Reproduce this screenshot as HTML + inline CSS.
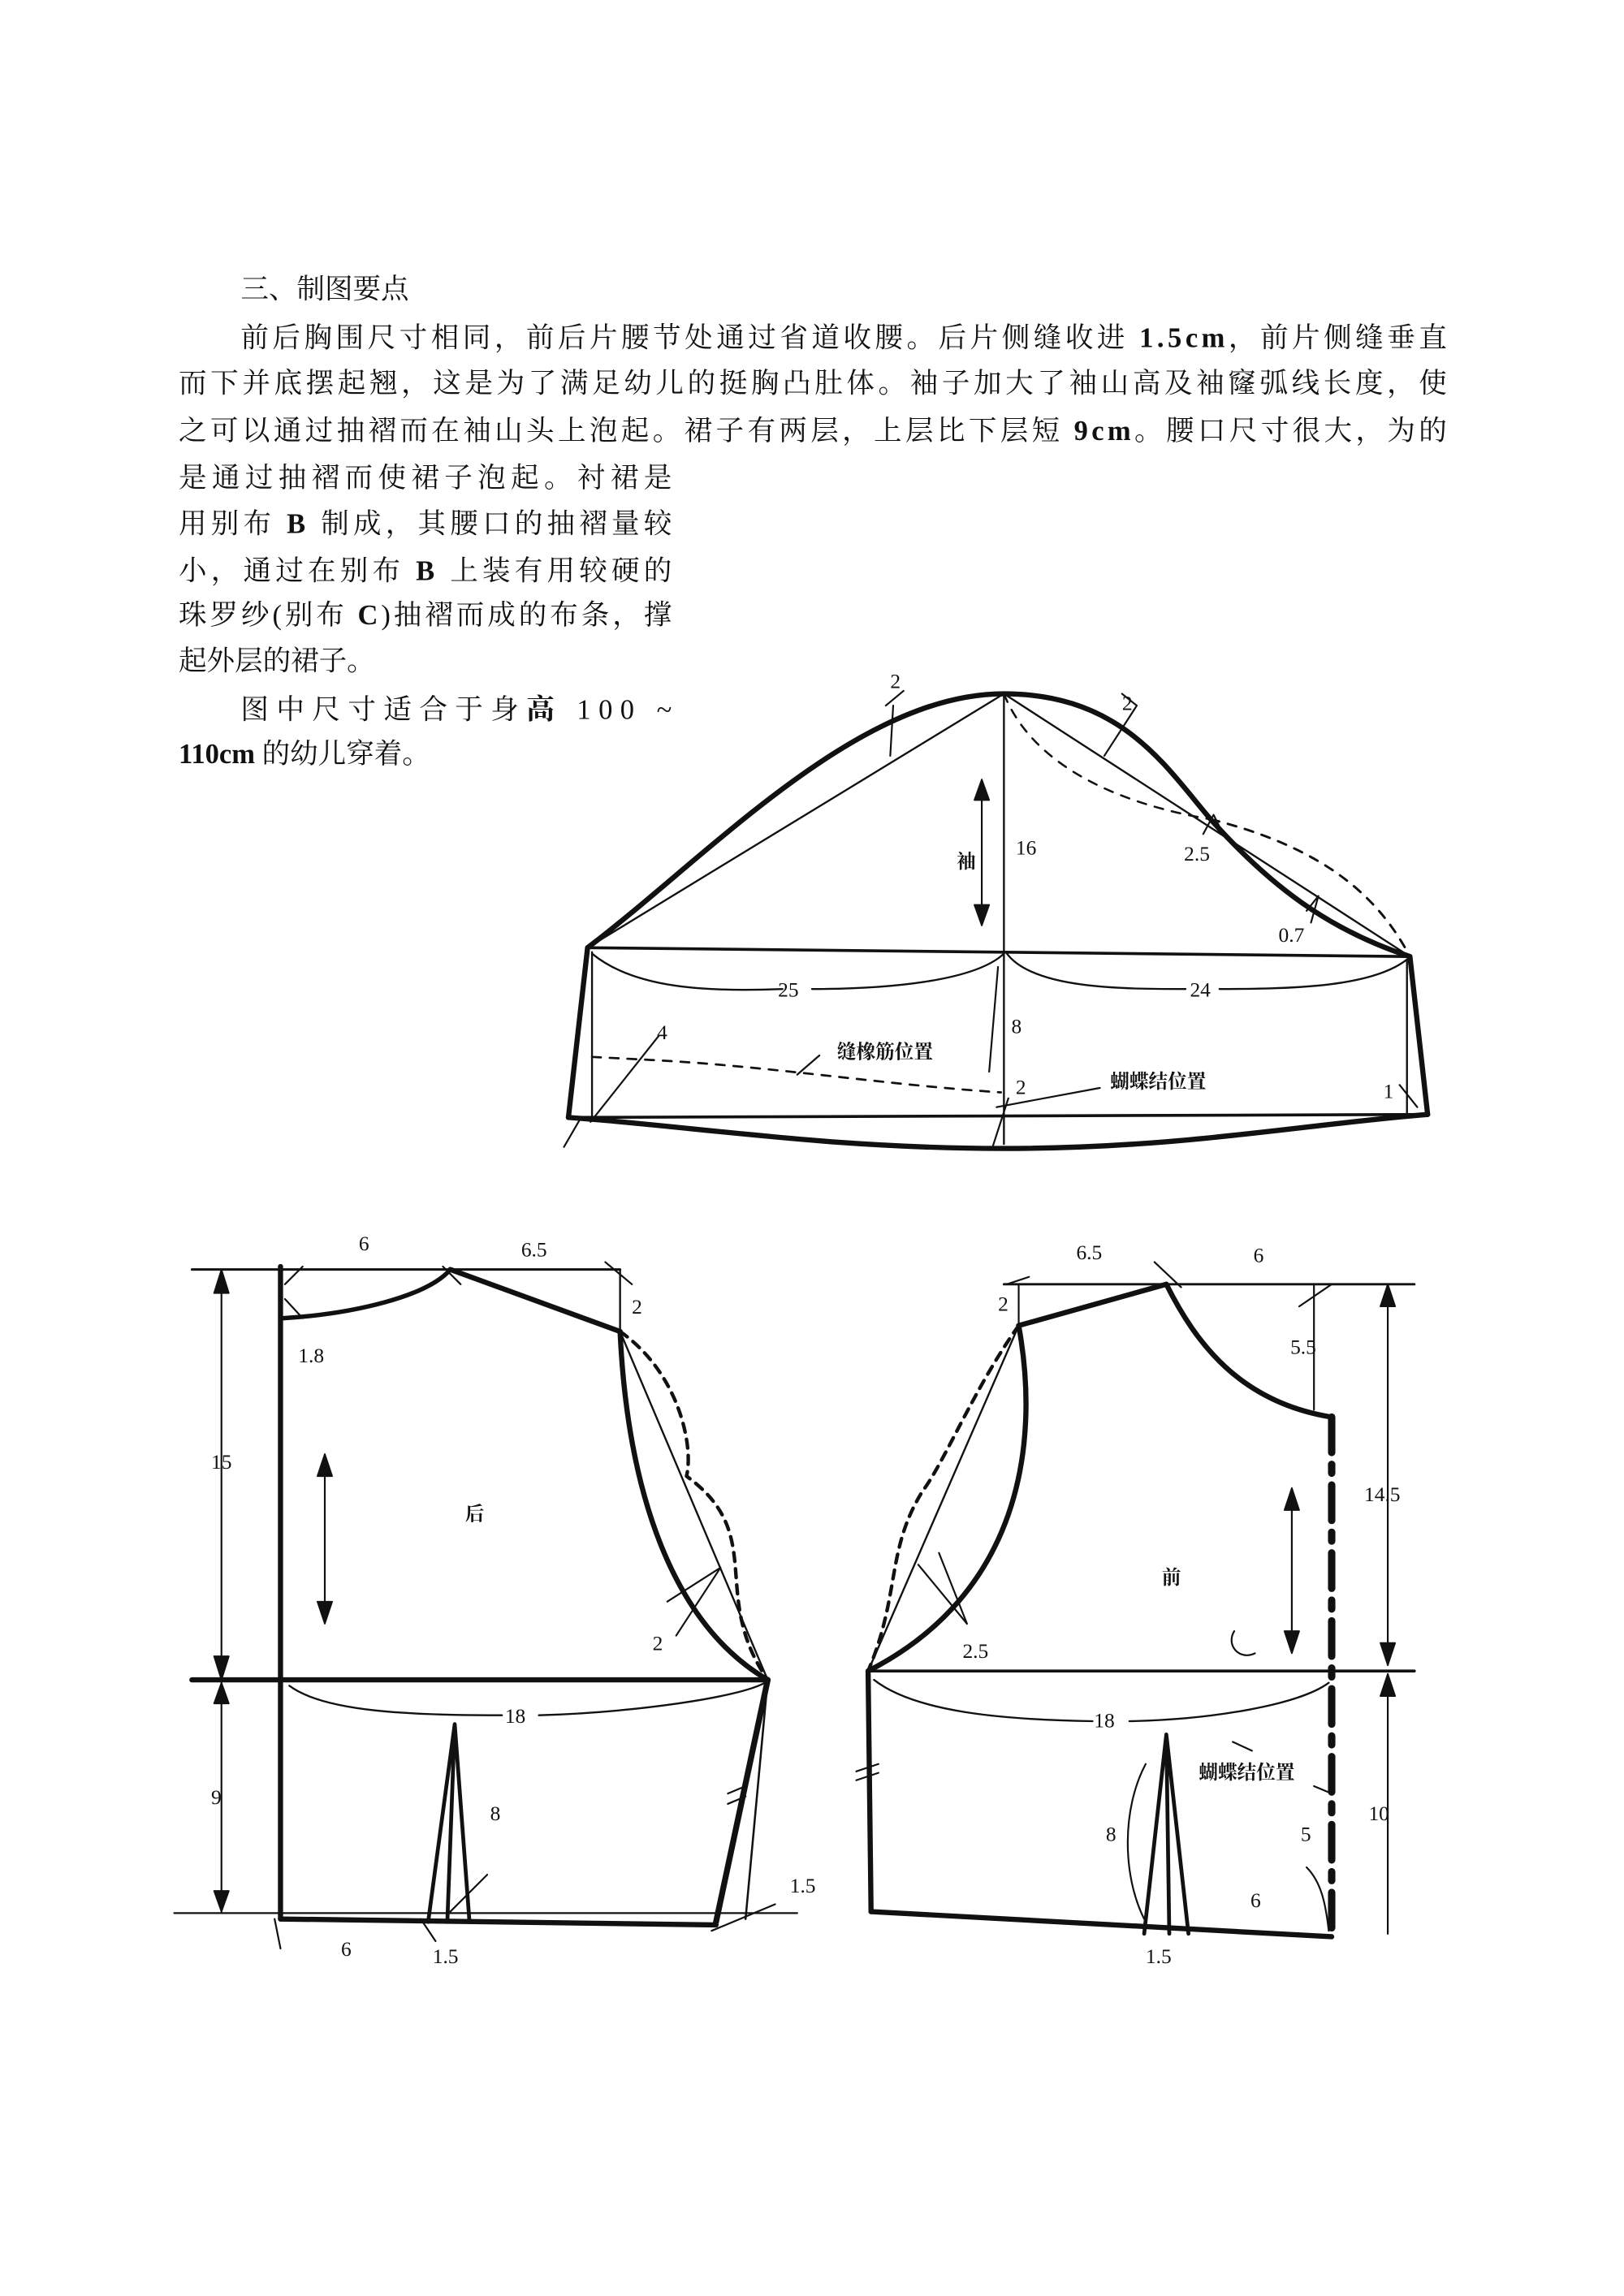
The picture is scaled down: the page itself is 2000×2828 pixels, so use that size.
<!DOCTYPE html>
<html><head><meta charset="utf-8"><style>
html,body{margin:0;padding:0;background:#fff}
svg{display:block}
text{font-family:"Liberation Serif","Noto Serif CJK SC",serif;fill:#111}
.b{font-weight:bold}
</style></head><body>
<svg width="2000" height="2828" viewBox="0 0 1100 1555.4" xmlns="http://www.w3.org/2000/svg">
<rect width="1100" height="1556" fill="#fff"/>
<g font-size="19">
<text x="163" y="202">三、制图要点</text>
<text x="163" y="235" textLength="817" lengthAdjust="spacing">前后胸围尺寸相同，前后片腰节处通过省道收腰。后片侧缝收进 <tspan class="b">1.5cm</tspan>，前片侧缝垂直</text>
<text x="121" y="266" textLength="859" lengthAdjust="spacing">而下并底摆起翘，这是为了满足幼儿的挺胸凸肚体。袖子加大了袖山高及袖窿弧线长度，使</text>
<text x="121" y="298" textLength="859" lengthAdjust="spacing">之可以通过抽褶而在袖山头上泡起。裙子有两层，上层比下层短 <tspan class="b">9cm</tspan>。腰口尺寸很大，为的</text>
<text x="121" y="330" textLength="334" lengthAdjust="spacing">是通过抽褶而使裙子泡起。衬裙是</text>
<text x="121" y="361" textLength="334" lengthAdjust="spacing">用别布 <tspan class="b">B</tspan> 制成，其腰口的抽褶量较</text>
<text x="121" y="393" textLength="334" lengthAdjust="spacing">小，通过在别布 <tspan class="b">B</tspan> 上装有用较硬的</text>
<text x="121" y="423" textLength="334" lengthAdjust="spacing">珠罗纱(别布 <tspan class="b">C</tspan>)抽褶而成的布条，撑</text>
<text x="121" y="454">起外层的裙子。</text>
<text x="163" y="487" textLength="292" lengthAdjust="spacing">图中尺寸适合于身<tspan class="b">高</tspan> 100 ~</text>
<text x="121" y="517"><tspan class="b">110cm</tspan> 的幼儿穿着。</text>
</g>

<g fill="none" stroke="#111" stroke-linecap="round" stroke-linejoin="round">
<!-- SLEEVE -->
<path d="M398 642 C480 580 580 470 680 470 C760 470 790 520 820 555 C860 600 900 630 955 648" stroke-width="3.5"/>
<path d="M398 642 L680 470 L955 648" stroke-width="1.3"/>
<path d="M680 470 L680 775" stroke-width="1.3"/>
<path d="M680 470 C700 520 760 545 820 555" stroke-width="1.4" stroke-dasharray="6 6"/>
<path d="M820 555 C900 575 935 610 955 648" stroke-width="1.6" stroke-dasharray="6 6"/>
<path d="M398 642 L955 648" stroke-width="2"/>
<path d="M398 642 L385 757 M955 648 L967 755" stroke-width="3.5"/>
<path d="M401 645 L401 757 M953 650 L953 755" stroke-width="1.3"/>
<path d="M385 757 L967 755" stroke-width="2"/>
<path d="M385 757 C470 763 560 778 680 778 C800 778 880 762 967 755" stroke-width="3.5"/>
<path d="M401 646 C430 670 480 672 530 670 M550 670 C600 670 660 665 680 646" stroke-width="1.3"/>
<path d="M682 646 C700 670 760 670 803 670 M826 670 C880 670 930 668 953 650" stroke-width="1.3"/>
<path d="M401 716 L440 718 C520 722 600 735 678 740" stroke-width="1.5" stroke-dasharray="6 6"/>
<path d="M670 726 L676 655 M683 744 L672 778 M540 728 L555 715 M675 750 L745 737 M400 760 L446 702 M382 777 L393 758 M948 735 L960 750" stroke-width="1.2"/>
<path d="M605 478 L603 512 M600 478 L612 468 M770 478 L748 512 M770 478 L760 470 M815 565 L822 552 L827 562 M885 617 L893 607 L888 625 M665 530 L665 625" stroke-width="1.2"/>
<path d="M665 528 l-5 14 h10z M665 627 l-5 -14 h10z" fill="#111" stroke-width="1"/>
<g font-size="14" stroke="none" fill="#111">
<text x="603" y="466">2</text><text x="760" y="481">2</text>
<text x="688" y="579">16</text><text x="802" y="583">2.5</text>
<text x="866" y="638">0.7</text><text x="527" y="675">25</text><text x="806" y="675">24</text>
<text x="685" y="700">8</text><text x="445" y="704">4</text><text x="688" y="741">2</text><text x="937" y="744">1</text>
<text x="648" y="588" font-size="13" font-weight="bold">袖</text>
<text x="567" y="717" font-size="13" font-weight="bold">缝橡筋位置</text>
<text x="752" y="737" font-size="13" font-weight="bold">蝴蝶结位置</text>
</g>

<!-- BACK BODICE -->
<path d="M130 860 L420 860" stroke-width="1.6"/>
<path d="M190 858 L190 1300" stroke-width="3.5"/>
<path d="M192 893 C240 890 290 878 305 860" stroke-width="3"/>
<path d="M305 860 L420 902" stroke-width="3.5"/>
<path d="M420 860 L420 902" stroke-width="1.3"/>
<path d="M420 902 C425 1010 455 1100 520 1138" stroke-width="3.5"/>
<path d="M420 902 L520 1138" stroke-width="1.3"/>
<path d="M420 902 C460 930 470 980 465 1000 C520 1040 480 1080 520 1138" stroke-width="2.4" stroke-dasharray="6 5"/>
<path d="M130 1138 L520 1138" stroke-width="3.5"/>
<path d="M150 862 L150 1136 M150 1140 L150 1295 M118 1296 L540 1296" stroke-width="1.2"/>
<path d="M150 860 l-5 16 h10z M150 1138 l-5 -16 h10z M150 1140 l-5 14 h10z M150 1295 l-5 -14 h10z" fill="#111" stroke-width="1"/>
<path d="M520 1138 L485 1302" stroke-width="4"/>
<path d="M520 1138 L505 1300" stroke-width="1.4"/>
<path d="M190 1300 L485 1304" stroke-width="3.5"/>
<path d="M308 1168 L290 1302 M308 1168 L318 1302 M308 1168 L303 1302" stroke-width="2.6"/>
<path d="M196 1142 C220 1160 280 1162 340 1162 M365 1162 C430 1160 500 1150 518 1140" stroke-width="1.3"/>
<path d="M220 987 L220 1098" stroke-width="1.2"/>
<path d="M220 985 l-5 15 h10z M220 1100 l-5 -15 h10z" fill="#111"/>
<path d="M193 870 L205 858 M193 880 L205 893 M300 858 L312 870 M410 855 L428 870 M452 1085 L488 1062 L458 1108 M493 1215 L505 1210 M493 1222 L505 1217 M305 1295 L330 1270 M482 1308 L525 1290 M186 1300 L190 1320 M285 1300 L295 1315" stroke-width="1.2"/>
<g font-size="14" stroke="none" fill="#111">
<text x="243" y="847">6</text><text x="353" y="851">6.5</text><text x="428" y="890">2</text>
<text x="202" y="923">1.8</text><text x="143" y="995">15</text><text x="143" y="1222">9</text>
<text x="442" y="1118">2</text><text x="342" y="1167">18</text><text x="332" y="1233">8</text>
<text x="231" y="1325">6</text><text x="293" y="1330">1.5</text><text x="535" y="1282">1.5</text>
<text x="315" y="1030" font-size="13" font-weight="bold">后</text>
</g>

<!-- FRONT BODICE -->
<path d="M680 870 L958 870" stroke-width="1.6"/>
<path d="M902 960 L902 1312" stroke-width="5" stroke-dasharray="24 8 6 8"/>
<path d="M790 870 C810 910 840 950 902 960" stroke-width="3.5"/>
<path d="M690 898 L790 870" stroke-width="3.5"/>
<path d="M690 870 L690 898 M890 870 L890 955" stroke-width="1.2"/>
<path d="M940 872 L940 1128 M940 1134 L940 1310" stroke-width="1.2"/>
<path d="M940 870 l-5 15 h10z M940 1128 l-5 -15 h10z M940 1134 l-5 15 h10z" fill="#111"/>
<path d="M690 898 C705 980 690 1080 588 1132" stroke-width="3.5"/>
<path d="M690 898 L588 1132" stroke-width="1.3"/>
<path d="M690 898 C660 940 640 990 625 1010 C600 1050 610 1080 588 1132" stroke-width="2.4" stroke-dasharray="6 5"/>
<path d="M588 1132 L958 1132" stroke-width="2"/>
<path d="M588 1132 L590 1295" stroke-width="3.5"/>
<path d="M590 1295 L902 1312" stroke-width="3.5"/>
<path d="M790 1175 L775 1310 M790 1175 L805 1310 M790 1175 L792 1310" stroke-width="2.6"/>
<path d="M592 1138 C620 1160 680 1165 740 1166 M765 1166 C820 1165 880 1155 900 1140" stroke-width="1.3"/>
<path d="M875 1010 L875 1118" stroke-width="1.2"/>
<path d="M875 1008 l-5 15 h10z M875 1120 l-5 -15 h10z" fill="#111"/>
<path d="M697 865 L682 870 M782 855 L800 872 M880 885 L902 870 M622 1060 L655 1100 L636 1052 M580 1200 L595 1195 M580 1206 L595 1201 M776 1195 C760 1225 760 1270 775 1300 M890 1210 L902 1215 M885 1265 C895 1275 898 1290 900 1308 M835 1180 L848 1186 M836 1105 C830 1115 840 1125 850 1120" stroke-width="1.2"/>
<g font-size="14" stroke="none" fill="#111">
<text x="729" y="853">6.5</text><text x="849" y="855">6</text><text x="676" y="888">2</text>
<text x="874" y="917">5.5</text><text x="924" y="1017">14.5</text><text x="652" y="1123">2.5</text>
<text x="741" y="1170">18</text><text x="749" y="1247">8</text><text x="881" y="1247">5</text>
<text x="927" y="1233">10</text><text x="847" y="1292">6</text><text x="776" y="1330">1.5</text>
<text x="787" y="1073" font-size="13" font-weight="bold">前</text>
<text x="812" y="1205" font-size="13" font-weight="bold">蝴蝶结位置</text>
</g>
</g>
</svg>
</body></html>
